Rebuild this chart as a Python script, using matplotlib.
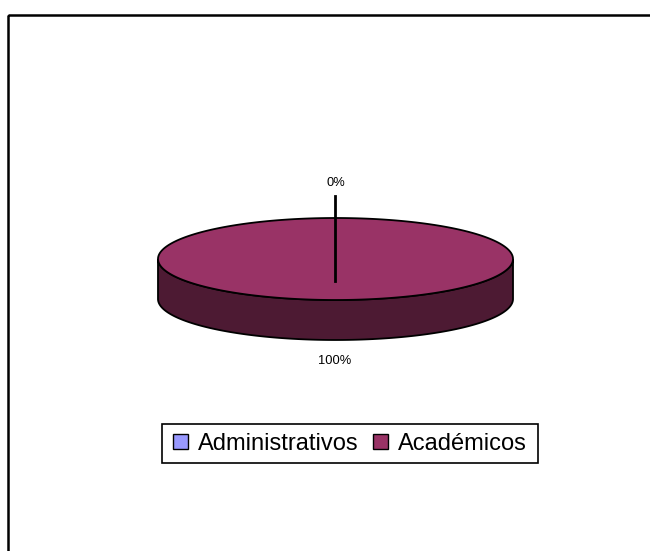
import numpy as np
import matplotlib.pyplot as plt
from matplotlib.patches import Polygon, Rectangle, Patch

plt.rcParams['font.family'] = ['Liberation Sans', 'DejaVu Sans']

categories = ['Administrativos', 'Académicos']
values = [0, 100]
pct_labels = ['0%', '100%']
colors = ['#9999FF', '#993366']
side_colors = ['#4D4D80', '#4D1A33']

fig = plt.figure(figsize=(6.5, 5.51), dpi=100)
ax = fig.add_axes([0, 0, 1, 1])
ax.set_xlim(0, 650)
ax.set_ylim(551, 0)
ax.axis('off')

# chart frame (right/bottom edges fall outside the picture)
ax.add_patch(Rectangle((8, 15), 700, 600, fill=False, lw=1.8, ec='black'))

# 3d pie geometry (pixel units)
cx, cy, a, b, depth = 335.5, 259, 177.5, 41, 40


def pt(theta, dy=0):
    # theta: clockwise from 12 o'clock, radians
    return cx + a * np.sin(theta), cy - b * np.cos(theta) + dy


fracs = np.array(values, dtype=float) / sum(values)
starts = np.concatenate([[0], np.cumsum(fracs)[:-1]]) * 2 * np.pi
ends = starts + fracs * 2 * np.pi

# sides (front half only)
for s, e, sc in zip(starts, ends, side_colors):
    lo, hi = max(s, np.pi / 2), min(e, 3 * np.pi / 2)
    if hi <= lo:
        continue
    t = np.linspace(lo, hi, 200)
    xs, ys = pt(t)
    xb, yb = pt(t[::-1], depth)
    poly = np.column_stack([np.concatenate([xs, xb]), np.concatenate([ys, yb])])
    ax.add_patch(Polygon(poly, closed=True, fc=sc, ec='black', lw=1.3, zorder=2))

# top faces
for s, e, c in zip(starts, ends, colors):
    if e - s <= 0:
        continue
    t = np.linspace(s, e, 400)
    xs, ys = pt(t)
    if e - s < 2 * np.pi - 1e-9:
        xs = np.concatenate([[cx], xs])
        ys = np.concatenate([[cy], ys])
    ax.add_patch(Polygon(np.column_stack([xs, ys]), closed=True, fc=c, ec='black',
                         lw=1.3, zorder=3))

# data labels
ax.plot([335, 335], [196, 281], color='black', lw=2, zorder=4)
ax.text(335.5, 182.5, pct_labels[0], ha='center', va='center', fontsize=9.3)
ax.text(335, 361, pct_labels[1], ha='center', va='center', fontsize=9.3)

# legend: frame drawn by hand, entries by matplotlib
ax.add_patch(Rectangle((162, 424), 376, 39, fill=True, fc='white', lw=1.2, ec='black', zorder=5))
handles = [Patch(fc=c, ec='black', lw=1.0) for c in colors]
leg = ax.legend(handles, categories, loc='center', bbox_to_anchor=(350 / 650, 1 - 444 / 551),
                bbox_transform=fig.transFigure, ncol=2, fontsize=17, frameon=False,
                handlelength=0.62, handleheight=0.6, handletextpad=0.42,
                columnspacing=0.62, borderpad=0, borderaxespad=0)
leg.set_zorder(6)

fig.savefig('out.png', dpi=100)
